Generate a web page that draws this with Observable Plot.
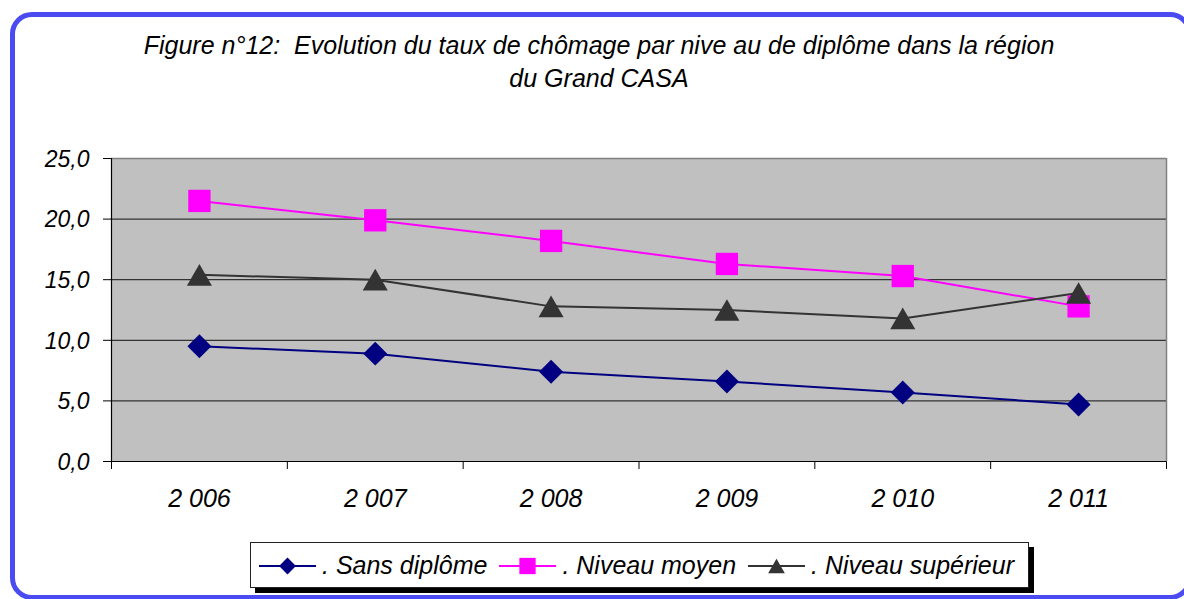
<!DOCTYPE html>
<html>
<head>
<meta charset="utf-8">
<script src="https://cdn.jsdelivr.net/npm/d3@7"></script>
<script src="https://cdn.jsdelivr.net/npm/@observablehq/plot@0.6"></script>
<style>
  html, body { margin: 0; padding: 0; background: #fff; }
  #wrap { position: relative; width: 1184px; height: 599px; overflow: hidden; background: #fff;
          font-family: Arial, "Liberation Sans", sans-serif; font-style: italic; color: #000; }
  #frame { position: absolute; left: 10px; top: 12px; width: 1182px; height: 588px; box-sizing: border-box;
           border: 5px solid #4b4bf2; border-radius: 22px; pointer-events: none; }
  #title { position: absolute; left: 10px; top: 29px; width: 1178px; text-align: center;
           font-size: 25px; line-height: 33px; white-space: pre-wrap; }
  #chart { position: absolute; left: 0; top: 130px; }
  #legend { position: absolute; left: 250px; top: 542px; width: 779px; height: 46px; box-sizing: border-box;
            border: 1px solid #222; background: #fff; box-shadow: 5px 5px 0 #000;
            display: flex; align-items: center; padding-left: 8px; font-size: 25px; }
  .item { display: flex; align-items: center; margin-right: 12px; white-space: pre; }
  .item svg { margin-right: 6px; }
</style>
</head>
<body>
<div id="wrap">
  <div id="title">Figure n°12:  Evolution du taux de chômage par nive au de diplôme dans la région
du Grand CASA</div>
  <div id="chart"></div>
  <div id="legend"></div>
  <div id="frame"></div>
</div>
<script>
const years = ["2 006", "2 007", "2 008", "2 009", "2 010", "2 011"];
const sansDiplome = [9.5, 8.9, 7.4, 6.6, 5.7, 4.7];
const niveauMoyen = [21.5, 19.9, 18.2, 16.3, 15.3, 12.8];
const niveauSuperieur = [15.4, 15.0, 12.8, 12.5, 11.8, 13.9];
const seriesNames = [". Sans diplôme", ". Niveau moyen", ". Niveau supérieur"];
const seriesColors = ["#000080", "#ff00ff", "#333333"];
const seriesSymbols = ["diamond2", "square", "triangle"];
const yTicks = [0, 5, 10, 15, 20, 25];

const seriesValues = [sansDiplome, niveauMoyen, niveauSuperieur];
const rows = seriesValues.flatMap((vals, s) =>
  vals.map((v, i) => ({series: seriesNames[s], i, year: years[i], value: v})));
const boundaries = d3.range(years.length + 1).map(k => k - 0.5);
const fmt = d => d.toFixed(1).replace(".", ",");
const yMax = yTicks[yTicks.length - 1];

const markerR = [10.8, 12.6, 9.3];
const markerDy = [0, 0, 3.6];

const chart = Plot.plot({
  width: 1184,
  height: 390,
  marginTop: 28,
  marginBottom: 59,
  marginLeft: 111,
  marginRight: 18,
  style: {fontFamily: "Arial, 'Liberation Sans', sans-serif", fontStyle: "italic", fontSize: "21px",
          color: "#000", background: "transparent", overflow: "visible"},
  x: {type: "linear", domain: [boundaries[0], boundaries[boundaries.length - 1]], ticks: boundaries,
      tickFormat: () => "", tickSize: 8, label: null},
  y: {domain: [0, yMax], ticks: yTicks, tickFormat: () => "", tickSize: 8, label: null},
  color: {domain: seriesNames, range: seriesColors},
  marks: [
    Plot.frame({fill: "#c0c0c0", stroke: null}),
    Plot.ruleY(yTicks.filter(v => v > 0 && v < yMax), {stroke: "#333", strokeWidth: 1.2}),
    Plot.ruleY([yMax], {stroke: "#808080", strokeWidth: 1.5}),
    Plot.ruleX([boundaries[boundaries.length - 1]], {stroke: "#808080", strokeWidth: 1.5}),
    Plot.ruleY([0], {stroke: "#000", strokeWidth: 1.2}),
    Plot.ruleX([boundaries[0]], {stroke: "#000", strokeWidth: 1.2}),
    Plot.line(rows, {x: "i", y: "value", z: "series", stroke: "series", strokeWidth: 2}),
    ...seriesNames.map((name, s) =>
      Plot.dot(rows.filter(r => r.series === name), {
        x: "i", y: "value", symbol: () => seriesSymbols[s], r: markerR[s], dy: markerDy[s],
        fill: seriesColors[s], stroke: null
      })),
    Plot.text(years, {x: (d, i) => i, text: d => d, frameAnchor: "bottom", lineAnchor: "bottom",
                      dy: 45, fontSize: 25, textAnchor: "middle", fill: "#000"}),
    Plot.text(yTicks, {y: d => d, text: fmt, frameAnchor: "left", textAnchor: "end",
                       dx: -22, dy: 1, fontSize: 23, fill: "#000"})
  ]
});
document.getElementById("chart").appendChild(chart);

// Legend
const legend = d3.select("#legend");
const legendR = [7.6, 9.2, 6.2];
const legendDy = [0, 0, 2.4];
seriesNames.forEach((name, s) => {
  const item = legend.append("div").attr("class", "item");
  const svg = item.append("svg").attr("width", 57).attr("height", 22);
  svg.append("line").attr("x1", 0).attr("x2", 57).attr("y1", 12).attr("y2", 12)
    .attr("stroke", seriesColors[s]).attr("stroke-width", 2);
  const symType = [d3.symbolDiamond2, d3.symbolSquare, d3.symbolTriangle][s];
  svg.append("path").attr("d", d3.symbol(symType, Math.PI * legendR[s] * legendR[s])())
    .attr("transform", `translate(28.5,${12 + legendDy[s]})`).attr("fill", seriesColors[s]);
  item.append("span").text(name);
});
</script>
</body>
</html>
